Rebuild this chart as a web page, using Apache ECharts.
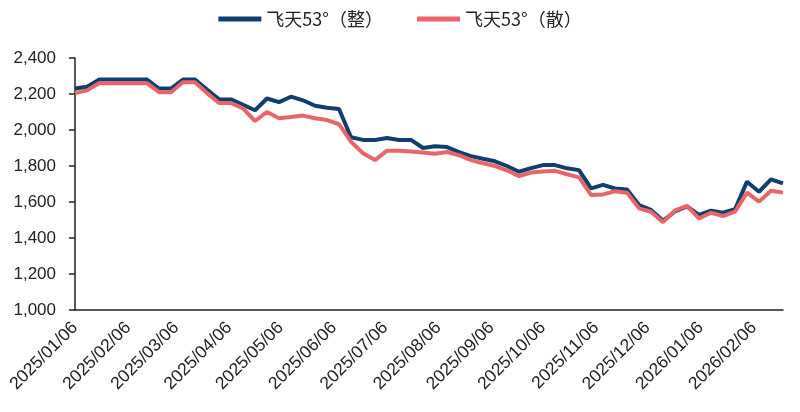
<!DOCTYPE html>
<html>
<head>
<meta charset="utf-8">
<script src="https://cdn.jsdelivr.net/npm/echarts@6/dist/echarts.min.js"></script>
<style>
html,body{margin:0;padding:0;background:#fff;}
#c{width:800px;height:412px;}
</style>
</head>
<body>
<div id="c"></div>
<script>
// Weekly observation dates
var dates = [
 '2025/01/06','2025/01/13','2025/01/20','2025/01/27','2025/02/03','2025/02/10','2025/02/17','2025/02/24',
 '2025/03/03','2025/03/10','2025/03/17','2025/03/24','2025/03/31','2025/04/07','2025/04/14','2025/04/21',
 '2025/04/28','2025/05/05','2025/05/12','2025/05/19','2025/05/26','2025/06/02','2025/06/09','2025/06/16',
 '2025/06/23','2025/06/30','2025/07/07','2025/07/14','2025/07/21','2025/07/28','2025/08/04','2025/08/11',
 '2025/08/18','2025/08/25','2025/09/01','2025/09/08','2025/09/15','2025/09/22','2025/09/29','2025/10/06',
 '2025/10/13','2025/10/20','2025/10/27','2025/11/03','2025/11/10','2025/11/17','2025/11/24','2025/12/01',
 '2025/12/08','2025/12/15','2025/12/22','2025/12/29','2026/01/05','2026/01/12','2026/01/19','2026/01/26',
 '2026/02/02','2026/02/09','2026/02/16','2026/02/23'
];
// 飞天53°（整）
var wholeCase = [
 2230,2240,2280,2280,2280,2280,2280,2230,
 2230,2280,2280,2225,2170,2170,2140,2110,
 2175,2155,2185,2165,2135,2124,2117,1960,
 1945,1945,1955,1945,1945,1900,1910,1905,
 1877,1855,1840,1826,1800,1768,1788,1805,
 1805,1787,1777,1676,1695,1675,1670,1583,
 1556,1496,1548,1575,1528,1552,1541,1560,
 1713,1657,1726,1704
];
// 飞天53°（散）
var loose = [
 2205,2220,2260,2260,2260,2260,2260,2210,
 2210,2265,2265,2205,2150,2150,2120,2050,
 2100,2065,2072,2080,2065,2055,2032,1935,
 1871,1833,1885,1885,1880,1875,1868,1878,
 1860,1833,1815,1800,1776,1744,1764,1770,
 1773,1754,1737,1639,1642,1660,1652,1565,
 1546,1488,1553,1578,1509,1540,1522,1546,
 1652,1602,1663,1652
];
var seriesNames = ['飞天53°（整）','飞天53°（散）'];
var yTicks = {min:1000, max:2400, interval:200};

// Daily category axis so month ticks fall on the 6th
function fmt(d){
  var m = d.getUTCMonth()+1, dd = d.getUTCDate();
  return d.getUTCFullYear()+'/'+(m<10?'0':'')+m+'/'+(dd<10?'0':'')+dd;
}
function parse(s){var p=s.split('/');return new Date(Date.UTC(+p[0],+p[1]-1,+p[2]));}
var days = [];
var start = parse(dates[0]), end = parse(dates[dates.length-1]);
for (var t = start.getTime(); t <= end.getTime(); t += 86400000) days.push(fmt(new Date(t)));
function toDaily(vals){
  var map = {};
  dates.forEach(function(d,i){map[d]=vals[i];});
  return days.map(function(d){return map.hasOwnProperty(d)?map[d]:null;});
}

var chart = echarts.init(document.getElementById('c'));
var font = 'Liberation Sans, Arial, sans-serif';
chart.setOption({
  animation:false,
  backgroundColor:'#fff',
  legend:{
    top:5, left:'center',
    itemWidth:43, itemHeight:5, itemGap:34,
    icon:'rect',
    textStyle:{fontSize:18, color:'#222', fontFamily:'Noto Sans CJK SC, sans-serif'},
    data:seriesNames
  },
  grid:{left:75, right:17, top:58, bottom:102},
  xAxis:{
    type:'category', data:days, boundaryGap:false,
    axisLine:{lineStyle:{color:'#222', width:1.5}},
    axisTick:{show:false},
    axisLabel:{
      rotate:45, fontSize:17.5, color:'#222', fontFamily:font, margin:15,
      interval:function(i,v){return v.slice(8)==='06';}
    },
    splitLine:{show:false}
  },
  yAxis:{
    type:'value', min:yTicks.min, max:yTicks.max, interval:yTicks.interval,
    axisLine:{show:true, lineStyle:{color:'#222', width:1.5}},
    axisTick:{show:true, inside:false, length:6, lineStyle:{color:'#222', width:1.5}},
    axisLabel:{fontSize:17, color:'#222', fontFamily:font, margin:19,
      formatter:function(v){return v.toLocaleString('en-US');}},
    splitLine:{show:false}
  },
  series:[
    {name:seriesNames[0], type:'line', data:toDaily(wholeCase), connectNulls:true, showSymbol:false,
     symbol:'none', lineStyle:{color:'#0f3f6c', width:4}, itemStyle:{color:'#0f3f6c'}},
    {name:seriesNames[1], type:'line', data:toDaily(loose), connectNulls:true, showSymbol:false,
     symbol:'none', lineStyle:{color:'#e8656a', width:4}, itemStyle:{color:'#e8656a'}}
  ]
});
</script>
</body>
</html>
